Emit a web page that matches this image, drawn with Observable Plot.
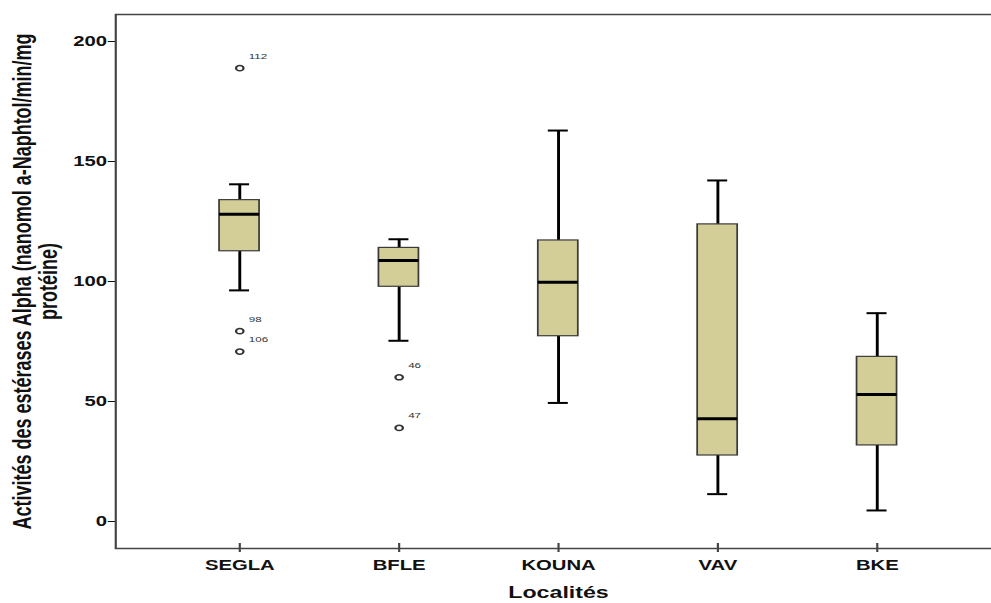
<!DOCTYPE html>
<html><head><meta charset="utf-8">
<script src="https://cdn.jsdelivr.net/npm/d3@7"></script>
<script src="https://cdn.jsdelivr.net/npm/@observablehq/plot@0.6"></script>
<style>html,body{margin:0;padding:0;background:#fff;overflow:hidden}</style>
</head><body><div id="chart"></div>
<script>
// ---- data ----
const localites   = ["SEGLA", "BFLE", "KOUNA", "VAV", "BKE"];
const whiskerLow  = [96.3, 75.3, 49.4, 11.4, 4.6];
const quartile1   = [112.6, 97.8, 77.2, 27.5, 31.7];
const medianVals  = [128.0, 108.8, 99.7, 42.8, 52.9];
const quartile3   = [133.9, 114.0, 117.1, 123.8, 68.6];
const whiskerHigh = [140.5, 117.6, 162.9, 142.1, 86.8];
const outlierLocalite = ["SEGLA", "SEGLA", "SEGLA", "BFLE", "BFLE"];
const outlierValue    = [188.9, 79.3, 70.8, 60.1, 39.0];
const outlierId       = ["112", "98", "106", "46", "47"];
const yTicks = [0, 50, 100, 150, 200];
const yTitle = "Activités des estérases Alpha (nanomol a-Naphtol/min/mg\nprotéine)";
const xTitle = "Localités";

// ---- layout (drawn at narrower width, then stretched horizontally like the reference) ----
const W = 684, H = 603, S = 991 / W;
const mL = 79.4, mT = 14, mB = 55;

const boxes = localites.map((l, i) => ({
  localite: l, lo: whiskerLow[i], q1: quartile1[i], med: medianVals[i], q3: quartile3[i], hi: whiskerHigh[i]
}));
const outliers = outlierValue.map((v, i) => ({localite: outlierLocalite[i], value: v, id: outlierId[i]}));

const capInset = 6.9;
const plot = Plot.plot({
  width: W, height: H,
  marginLeft: mL, marginRight: 0, marginTop: mT, marginBottom: mB,
  style: {fontFamily: "'Liberation Sans', Arial, sans-serif", fontSize: "14px", fontWeight: "bold", color: "#111", background: "#fff"},
  x: {domain: localites, range: [79.4, 690.6], paddingInner: 0.749, paddingOuter: 0.6527, round: false,
      label: null, tickSize: 0, tickPadding: 12},
  y: {domain: [-11.25, 211.25], ticks: yTicks, tickSize: 5, tickPadding: 1, label: null},
  marks: [
    Plot.frame({stroke: "#444", strokeWidth: 1.5, insetRight: -10}),
    Plot.ruleX(localites, {x: d => d, insetTop: H - mT - mB - 5, insetBottom: -4, stroke: "#444", strokeWidth: 1.5}),
    // whiskers
    Plot.ruleX(boxes, {x: "localite", y1: "lo", y2: "q1", stroke: "#000", strokeWidth: 2}),
    Plot.ruleX(boxes, {x: "localite", y1: "q3", y2: "hi", stroke: "#000", strokeWidth: 2}),
    Plot.tickY(boxes, {x: "localite", y: "lo", insetLeft: capInset, insetRight: capInset, stroke: "#000", strokeWidth: 2}),
    Plot.tickY(boxes, {x: "localite", y: "hi", insetLeft: capInset, insetRight: capInset, stroke: "#000", strokeWidth: 2}),
    // boxes
    Plot.barY(boxes, {x: "localite", y1: "q1", y2: "q3", fill: "#d3ce97", stroke: "#3a3a3a", strokeWidth: 1.2}),
    Plot.tickY(boxes, {x: "localite", y: "med", stroke: "#000", strokeWidth: 3}),
    // outliers
    Plot.dot(outliers, {x: "localite", y: "value", r: 2.6, stroke: "#333", strokeWidth: 1.5, fill: "none"}),
    Plot.text(outliers, {x: "localite", y: "value", text: "id", dx: 6.2, dy: -12, textAnchor: "start",
      fontSize: 8, fontWeight: "normal", fill: "#333"}),
    // axis titles
    Plot.text([yTitle], {frameAnchor: "left", text: d => d, rotate: -90, lineAnchor: "top", textAnchor: "middle",
      lineHeight: 1, dx: 7.9 - mL, fontSize: 18, fontWeight: "bold", fill: "#111"}),
    Plot.text([xTitle], {frameAnchor: "bottom", text: d => d, lineAnchor: "top", dy: 38.6, dx: 3.3,
      fontSize: 16, fontWeight: "bold", fill: "#111"})
  ]
});

plot.setAttribute("width", 991);
plot.setAttribute("height", 603);
plot.setAttribute("preserveAspectRatio", "none");
plot.style.width = "991px";
plot.style.height = "603px";
plot.style.maxWidth = "none";
document.getElementById("chart").appendChild(plot);
</script>
</body></html>
